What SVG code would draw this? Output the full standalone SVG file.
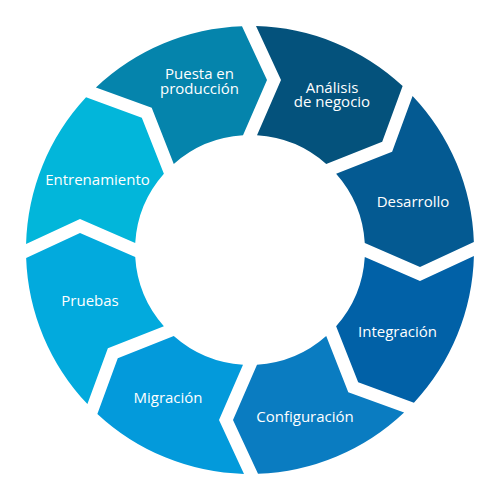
<svg xmlns="http://www.w3.org/2000/svg" width="500" height="500" viewBox="0 0 500 500">
<style>
.lbl{font-family:"Open Sans","Liberation Sans",sans-serif;font-size:15px;font-weight:500;fill:#ffffff;text-anchor:middle}
</style>
<rect width="500" height="500" fill="#ffffff"/>
<g id="analisis">
<path fill="#04527c" d="M256,26.08 A224,224 0 0 1 402.64,86.05 L382.23,141.81 L326.22,163.88 A115,115 0 0 0 257,135.21 L281,80 Z"/>
<text class="lbl" x="332" y="92.5"><tspan x="332" y="92.5">Análisis</tspan><tspan x="332" y="107">de negocio</tspan></text>
</g>
<g id="desarrollo">
<path fill="#045a92" d="M412.58,95.91 A224,224 0 0 1 473.86,242 L420,267 L364.79,243 A115,115 0 0 0 336.12,173.78 L392.13,151.71 Z"/>
<text class="lbl" x="413" y="207">Desarrollo</text>
</g>
<g id="integracion">
<path fill="#0161a7" d="M473.92,256 A224,224 0 0 1 413.95,402.64 L358.19,382.23 L336.12,326.22 A115,115 0 0 0 364.79,257 L420,281 Z"/>
<text class="lbl" x="397.5" y="337">Integración</text>
</g>
<g id="configuracion">
<path fill="#0a7cc1" d="M404.09,412.58 A224,224 0 0 1 258,473.86 L233,420 L257,364.79 A115,115 0 0 0 326.22,336.12 L348.29,392.13 Z"/>
<text class="lbl" x="305" y="421.5">Configuración</text>
</g>
<g id="migracion">
<path fill="#039adb" d="M244,473.92 A224,224 0 0 1 97.36,413.95 L117.77,358.19 L173.78,336.12 A115,115 0 0 0 243,364.79 L219,420 Z"/>
<text class="lbl" x="168" y="402.5">Migración</text>
</g>
<g id="pruebas">
<path fill="#02aadd" d="M87.42,404.09 A224,224 0 0 1 26.14,258 L80,233 L135.21,257 A115,115 0 0 0 163.88,326.22 L107.87,348.29 Z"/>
<text class="lbl" x="90" y="305.5">Pruebas</text>
</g>
<g id="entrenamiento">
<path fill="#02b6da" d="M26.08,244 A224,224 0 0 1 86.05,97.36 L141.81,117.77 L163.88,173.78 A115,115 0 0 0 135.21,243 L80,219 Z"/>
<text class="lbl" x="97.5" y="185">Entrenamiento</text>
</g>
<g id="puesta">
<path fill="#0584ac" d="M95.91,87.42 A224,224 0 0 1 242,26.14 L267,80 L243,135.21 A115,115 0 0 0 173.78,163.88 L151.71,107.87 Z"/>
<text class="lbl" x="199.5" y="78.5"><tspan x="199.5" y="78.5">Puesta en</tspan><tspan x="199.5" y="93.5">producción</tspan></text>
</g>
<g id="connectors"></g>
</svg>
